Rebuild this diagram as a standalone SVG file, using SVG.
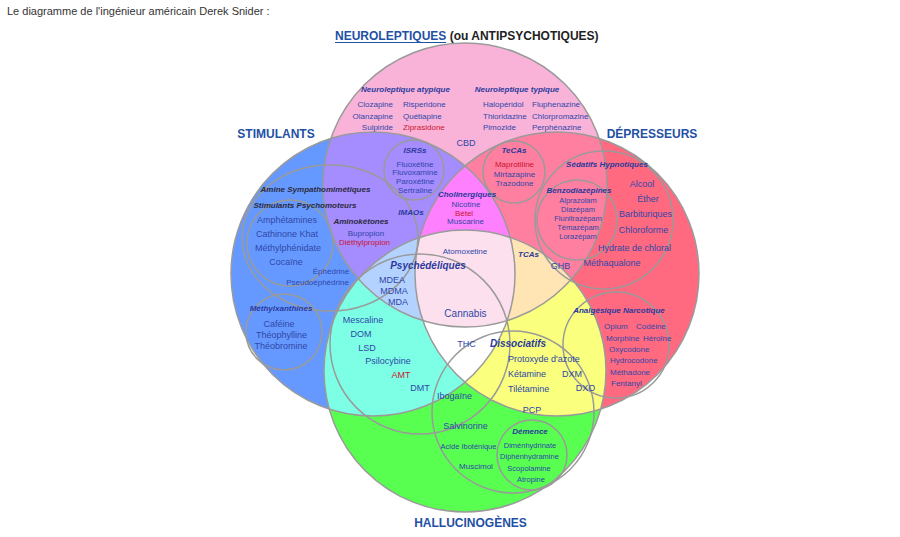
<svg xmlns="http://www.w3.org/2000/svg" width="900" height="537" viewBox="0 0 900 537">
<style>
text{font-family:"Liberation Sans",Arial,sans-serif;fill:#2F47A8;text-anchor:middle}
.s7{font-size:7.5px}.s8{font-size:8px}.s9{font-size:9px}.s10{font-size:10px}
.bi{font-weight:bold;font-style:italic;fill:#2A3A9C}
.dk{fill:#2B2B40}
.red{fill:#CC1530}
.st{text-anchor:start}.en{text-anchor:end}
.hd{font-size:12px;font-weight:bold;fill:#2350A5}
.ol{fill:none;stroke:#9A9A9A;stroke-width:1.5}
</style>
<defs>
<clipPath id="cP"><circle cx="465" cy="185" r="142"/></clipPath>
<clipPath id="cB"><circle cx="373" cy="274" r="142"/></clipPath>
<clipPath id="cR"><circle cx="557" cy="274" r="142"/></clipPath>
<clipPath id="cG"><circle cx="465" cy="371" r="141"/></clipPath>
</defs>
<rect width="900" height="537" fill="#FFFFFF"/>
<g id="regions">
<circle cx="465" cy="185" r="142" fill="#F9B3D9"/>
<circle cx="373" cy="274" r="142" fill="#6699FF"/>
<circle cx="557" cy="274" r="142" fill="#FF6A80"/>
<circle cx="465" cy="371" r="141" fill="#58FF50"/>
<g clip-path="url(#cB)"><circle cx="465" cy="185" r="142" fill="#A58CFF"/></g>
<g clip-path="url(#cR)"><circle cx="465" cy="185" r="142" fill="#FF7FA0"/></g>
<g clip-path="url(#cB)"><circle cx="465" cy="371" r="141" fill="#7DFFE6"/></g>
<g clip-path="url(#cR)"><circle cx="465" cy="371" r="141" fill="#FAFF7D"/></g>
<g clip-path="url(#cB)"><g clip-path="url(#cR)"><circle cx="465" cy="185" r="142" fill="#FF80FF"/></g></g>
<g clip-path="url(#cB)"><g clip-path="url(#cG)"><circle cx="465" cy="185" r="142" fill="#B4D2FF"/></g></g>
<g clip-path="url(#cR)"><g clip-path="url(#cG)"><circle cx="465" cy="185" r="142" fill="#FFE4B4"/></g></g>
<g clip-path="url(#cB)"><g clip-path="url(#cR)"><circle cx="465" cy="371" r="141" fill="#FFFFFF"/></g></g>
<g clip-path="url(#cB)"><g clip-path="url(#cR)"><g clip-path="url(#cG)"><circle cx="465" cy="185" r="142" fill="#FCE0EE"/></g></g></g>
</g>
<g id="outlines">
<circle class="ol" cx="465" cy="185" r="142"/>
<circle class="ol" cx="373" cy="274" r="142"/>
<circle class="ol" cx="557" cy="274" r="142"/>
<circle class="ol" cx="465" cy="371" r="141"/>
<circle class="ol" cx="414" cy="170" r="30"/>
<circle class="ol" cx="514" cy="172" r="31"/>
<ellipse class="ol" cx="330" cy="238" rx="88" ry="73"/>
<circle class="ol" cx="290" cy="243" r="43"/>
<circle class="ol" cx="284" cy="332" r="38"/>
<circle class="ol" cx="604" cy="220" r="69"/>
<circle class="ol" cx="577" cy="220" r="40"/>
<circle class="ol" cx="616" cy="345" r="53"/>
<circle class="ol" cx="420" cy="344" r="90"/>
<circle class="ol" cx="513" cy="412" r="81"/>
<circle class="ol" cx="532" cy="455" r="35"/>
</g>
<g id="caption">
<text x="7" y="15" class="st" style="font-size:11px;fill:#333333">Le diagramme de l'ingénieur américain Derek Snider :</text>
</g>
<g id="neuroleptiques">
<text x="335" y="40" class="hd st">NEUROLEPTIQUES<tspan style="fill:#222222"> (ou ANTIPSYCHOTIQUES)</tspan></text>
<line x1="335" y1="42.5" x2="446" y2="42.5" stroke="#2350A5" stroke-width="1"/>
<text x="405.5" y="92" class="s8 bi">Neuroleptique atypique</text>
<text x="517" y="92" class="s8 bi">Neuroleptique typique</text>
<text x="393" y="107" class="s8 en">Clozapine</text>
<text x="393" y="118.5" class="s8 en">Olanzapine</text>
<text x="393" y="130" class="s8 en">Sulpiride</text>
<text x="403" y="107" class="s8 st">Risperidone</text>
<text x="403" y="118.5" class="s8 st">Quétiapine</text>
<text x="403" y="130" class="s8 st red">Ziprasidone</text>
<text x="483" y="107" class="s8 st">Halopéridol</text>
<text x="483" y="118.5" class="s8 st">Thioridazine</text>
<text x="483" y="130" class="s8 st">Pimozide</text>
<text x="532" y="107" class="s8 st">Fluphenazine</text>
<text x="532" y="118.5" class="s8 st">Chlorpromazine</text>
<text x="532" y="130" class="s8 st">Perphénazine</text>
<text x="466" y="146" class="s9">CBD</text>
</g>
<g id="stimulants">
<text x="276" y="138" class="hd">STIMULANTS</text>
<text x="315.5" y="192" class="s8 bi dk">Amine Sympathomimétiques</text>
<text x="305" y="208" class="s8 bi dk">Stimulants Psychomoteurs</text>
<text x="287" y="222.7" class="s9">Amphétamines</text>
<text x="287" y="236.7" class="s9">Cathinone Khat</text>
<text x="288" y="250.7" class="s9">Méthylphénidate</text>
<text x="286" y="265" class="s9">Cocaïne</text>
<text x="361" y="224" class="s8 bi dk">Aminokétones</text>
<text x="366" y="236" class="s8">Bupropion</text>
<text x="364.5" y="245.3" class="s8 red">Diéthylpropion</text>
<text x="331" y="274" class="s8">Éphédrine</text>
<text x="317.5" y="285" class="s8">Pseudoéphédrine</text>
<text x="281" y="310.7" class="s8 bi">Méthylxanthines</text>
<text x="279" y="326.7" class="s9">Caféine</text>
<text x="281.5" y="337.7" class="s9">Théophylline</text>
<text x="281" y="349" class="s9">Théobromine</text>
</g>
<g id="isrs">
<text x="415" y="153" class="s8 bi">ISRSs</text>
<text x="415" y="166.5" class="s8">Fluoxétine</text>
<text x="415" y="175.3" class="s8">Fluvoxamine</text>
<text x="415" y="184.3" class="s8">Paroxétine</text>
<text x="415" y="193" class="s8">Sertraline</text>
<text x="411" y="214.5" class="s8 bi">IMAOs</text>
</g>
<g id="tecas">
<text x="514" y="152.7" class="s8 bi">TeCAs</text>
<text x="514.5" y="167.3" class="s8 red">Maprotiline</text>
<text x="514.5" y="176.7" class="s8">Mirtazapine</text>
<text x="514.5" y="185.7" class="s8">Trazodone</text>
</g>
<g id="cholinergiques">
<text x="467" y="196.7" class="s8 bi">Cholinergiques</text>
<text x="466" y="206.7" class="s8">Nicotine</text>
<text x="464" y="216" class="s8 red">Bétel</text>
<text x="465.5" y="224.3" class="s8">Muscarine</text>
<text x="465" y="254" class="s8">Atomoxetine</text>
<text x="528.5" y="256.7" class="s8 bi">TCAs</text>
</g>
<g id="depresseurs">
<text x="652" y="138" class="hd">DÉPRESSEURS</text>
<text x="607" y="166.7" class="s8 bi">Sédatifs Hypnotiques</text>
<text x="579" y="192.7" class="s8 bi">Benzodiazépines</text>
<text x="578" y="202.7" class="s7">Alprazolam</text>
<text x="578" y="211.7" class="s7">Diazépam</text>
<text x="578" y="220.7" class="s7">Flunitrazépam</text>
<text x="578" y="230" class="s7">Témazépam</text>
<text x="578" y="239" class="s7">Lorazépam</text>
<text x="642" y="186.7" class="s9">Alcool</text>
<text x="648" y="202" class="s9">Éther</text>
<text x="645.5" y="217.3" class="s9">Barbituriques</text>
<text x="643.5" y="233.3" class="s9">Chloroforme</text>
<text x="634.5" y="250.7" class="s9">Hydrate de chloral</text>
<text x="612" y="266" class="s9">Méthaqualone</text>
<text x="560.5" y="269.3" class="s9">GHB</text>
</g>
<g id="analgesiques">
<text x="619" y="312.7" class="s8 bi">Analgésique Narcotique</text>
<text x="604" y="329.3" class="s8 st">Opium</text>
<text x="636" y="329.3" class="s8 st">Codéine</text>
<text x="606" y="341" class="s8 st">Morphine</text>
<text x="643" y="341" class="s8 st">Héroïne</text>
<text x="609" y="352.3" class="s8 st">Oxycodone</text>
<text x="610" y="363.3" class="s8 st">Hydrocodone</text>
<text x="610" y="374.7" class="s8 st">Méthadone</text>
<text x="611" y="386" class="s8 st">Fentanyl</text>
</g>
<g id="psychedeliques">
<text x="428" y="269.3" class="s10 bi">Psychédéliques</text>
<text x="392" y="283.3" class="s9">MDEA</text>
<text x="394" y="294.3" class="s9">MDMA</text>
<text x="398" y="305" class="s9">MDA</text>
<text x="465.5" y="316.7" class="s10">Cannabis</text>
<text x="363" y="323.3" class="s9">Mescaline</text>
<text x="361" y="337.3" class="s9">DOM</text>
<text x="367" y="351" class="s9">LSD</text>
<text x="388" y="364.3" class="s9">Psilocybine</text>
<text x="401" y="378.3" class="s9 red">AMT</text>
<text x="420" y="390.7" class="s9">DMT</text>
<text x="466.5" y="347.3" class="s9">THC</text>
</g>
<g id="dissociatifs">
<text x="518" y="346.7" class="s10 bi">Dissociatifs</text>
<text x="508" y="361.7" class="s9 st">Protoxyde d'azote</text>
<text x="508" y="376.7" class="s9 st">Kétamine</text>
<text x="508" y="391.7" class="s9 st">Tilétamine</text>
<text x="572" y="376.7" class="s9">DXM</text>
<text x="585.5" y="391" class="s9">DXO</text>
<text x="532" y="413.3" class="s9">PCP</text>
</g>
<g id="hallucinogenes">
<text x="470.5" y="527" class="hd">HALLUCINOGÈNES</text>
<text x="454.5" y="398.7" class="s9">Ibogaïne</text>
<text x="465.5" y="429" class="s9">Salvinorine</text>
<text x="468.5" y="449.3" class="s7">Acide Iboténique</text>
<text x="476" y="469.3" class="s8">Muscimol</text>
</g>
<g id="demence">
<text x="530" y="434.3" class="s8 bi">Démence</text>
<text x="530" y="448.3" class="s7">Diménhydrinate</text>
<text x="529.5" y="459.3" class="s7">Diphénhydramine</text>
<text x="529" y="470.7" class="s7">Scopolamine</text>
<text x="531" y="481.7" class="s7">Atropine</text>
</g>
</svg>
